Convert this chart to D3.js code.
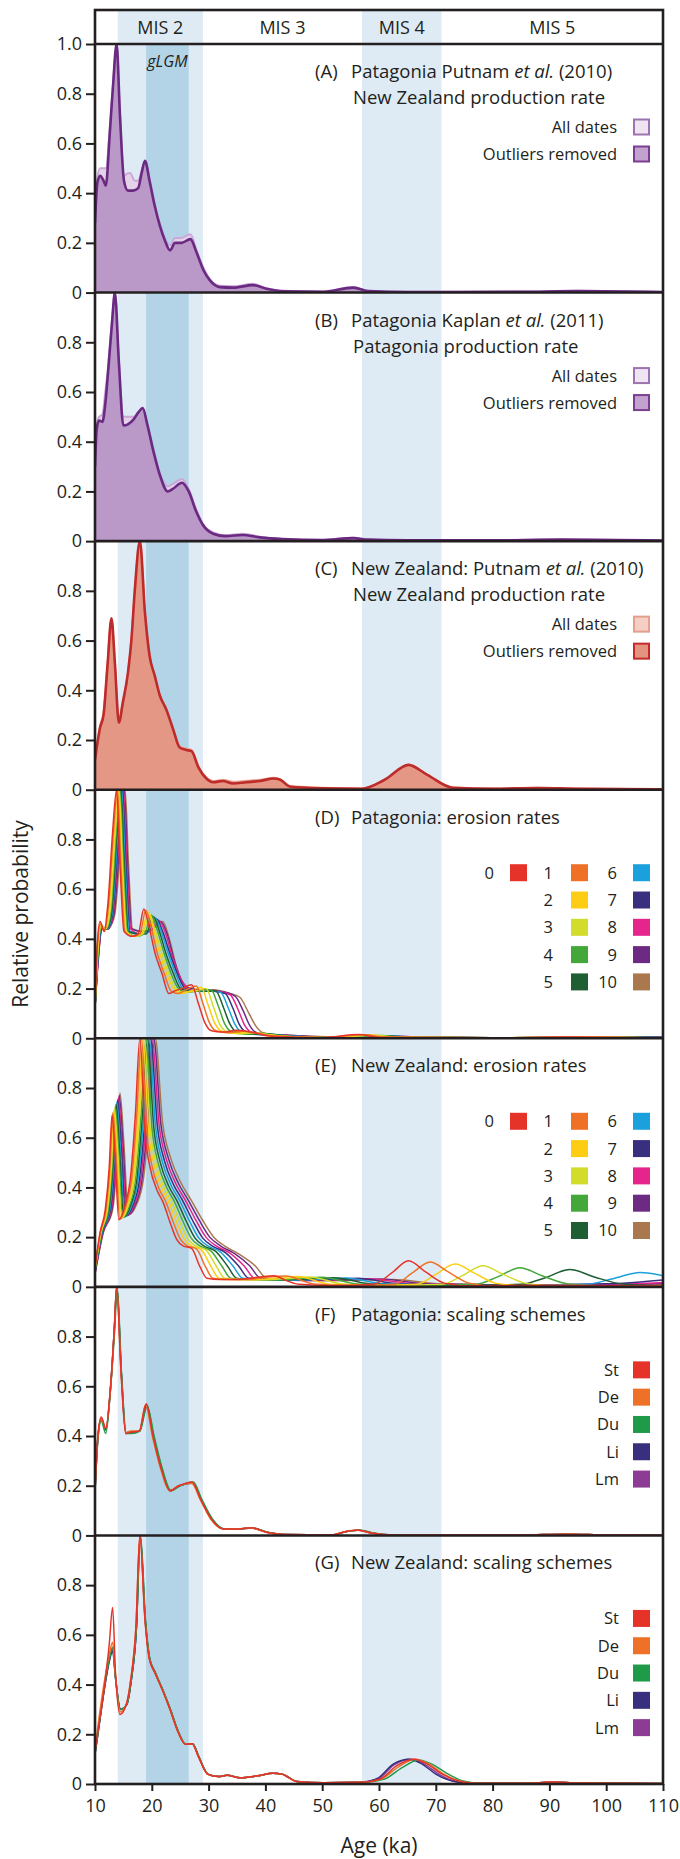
<!DOCTYPE html>
<html>
<head>
<meta charset="utf-8">
<script src="https://cdn.jsdelivr.net/npm/d3@7"></script>
<style>
body { margin: 0; background: #fff; }
svg text { font-family: "Open Sans", sans-serif; fill: #231f20; }
</style>
</head>
<body>
<script>
// ---- data (age in ka, relative probability) ----
const ageTicks = [10, 20, 30, 40, 50, 60, 70, 80, 90, 100, 110]
const probTicks = [0, 0.2, 0.4, 0.6, 0.8]
const probTicksTop = [0, 0.2, 0.4, 0.6, 0.8, 1.0]

const misNames = ["MIS 2", "MIS 3", "MIS 4", "MIS 5"]
const misBounds = [[14, 29], [29, 57], [57, 71], [71, 110]]
const lightBands = [[14, 29], [57, 71]]
const glgmBand = [19, 26.5]

const panelLetters = ["(A)", "(B)", "(C)", "(D)", "(E)", "(F)", "(G)"]
const titleLine1 = [
    ["Patagonia Putnam ", "et al.", " (2010)"],
    ["Patagonia Kaplan ", "et al.", " (2011)"],
    ["New Zealand: Putnam ", "et al.", " (2010)"],
    ["Patagonia: erosion rates"],
    ["New Zealand: erosion rates"],
    ["Patagonia: scaling schemes"],
    ["New Zealand: scaling schemes"]
]
const titleLine2 = ["New Zealand production rate", "Patagonia production rate", "New Zealand production rate", "", "", "", ""]

const datasetNames = ["All dates", "Outliers removed"]
const erosionRates = ["0", "1", "2", "3", "4", "5", "6", "7", "8", "9", "10"]
const scalingSchemes = ["St", "De", "Du", "Li", "Lm"]

// (A) Patagonia, Putnam et al. (2010) NZ production rate
const patPutnamAll = [[10,0.3],[10.4,0.46],[10.9,0.5],[11.5,0.5],[11.9,0.5],[12.6,0.66],[13.2,0.85],[13.8,1],[14.4,0.72],[15.1,0.47],[15.8,0.48],[16.2,0.48],[17,0.45],[17.6,0.45],[18.2,0.49],[18.8,0.53],[19.6,0.46],[20.5,0.36],[21.4,0.28],[22.3,0.22],[23.2,0.19],[24.1,0.22],[25.2,0.22],[26.8,0.235],[27.9,0.17],[29.1,0.1],[30.2,0.055],[32,0.027],[34.3,0.025],[37.8,0.035],[40.2,0.018],[43.2,0.007],[50,0.004],[55.5,0.022],[58,0.007],[65,0.003],[85,0.004],[95,0.007],[110,0.002]]
const patPutnamOut = [[10,0.28],[10.4,0.44],[10.9,0.47],[11.5,0.45],[11.9,0.43],[12.6,0.64],[13.2,0.84],[13.8,1],[14.4,0.71],[15.1,0.45],[15.8,0.41],[16.7,0.41],[17.6,0.42],[18.2,0.48],[18.8,0.53],[19.6,0.45],[20.5,0.35],[21.4,0.27],[22.3,0.21],[23.2,0.17],[24.1,0.2],[25.2,0.2],[26.8,0.215],[27.9,0.16],[29.1,0.09],[30.2,0.05],[32,0.022],[34.3,0.02],[37.8,0.03],[40.2,0.015],[43.2,0.005],[50,0.003],[55.5,0.02],[58,0.006],[65,0.002],[85,0.003],[95,0.006],[110,0.002]]

// (B) Patagonia, Kaplan et al. (2011) Patagonia production rate
const patKaplanAll = [[10,0.32],[10.3,0.47],[10.7,0.5],[11.3,0.51],[11.8,0.6],[12.3,0.7],[13,0.89],[13.5,1],[14.2,0.73],[15,0.5],[15.8,0.5],[16.8,0.5],[17.7,0.52],[18.4,0.535],[19.2,0.47],[20.3,0.37],[21.5,0.27],[22.8,0.22],[23.7,0.23],[25.3,0.25],[26.5,0.21],[27.8,0.13],[29,0.07],[30.8,0.035],[33,0.024],[36,0.03],[39,0.018],[43,0.009],[50,0.005],[55.5,0.014],[58,0.007],[65,0.003],[80,0.004],[92,0.007],[110,0.002]]
const patKaplanOut = [[10,0.3],[10.3,0.45],[10.7,0.485],[11.3,0.48],[11.8,0.55],[12.3,0.68],[13,0.88],[13.5,1],[14.2,0.72],[15,0.465],[15.8,0.47],[16.8,0.49],[17.7,0.52],[18.4,0.535],[19.2,0.47],[20.3,0.36],[21.5,0.26],[22.8,0.2],[23.7,0.21],[25.3,0.235],[26.5,0.2],[27.8,0.12],[29,0.065],[30.8,0.03],[33,0.02],[36,0.025],[39,0.015],[43,0.008],[50,0.004],[55.5,0.012],[58,0.006],[65,0.003],[80,0.003],[92,0.006],[110,0.002]]

// (C) New Zealand, Putnam et al. (2010)
const nzPutnamAll = [[10,0.13],[10.9,0.26],[11.5,0.31],[12.2,0.5],[12.9,0.69],[13.5,0.51],[14.2,0.28],[14.9,0.36],[15.8,0.47],[16.4,0.6],[17,0.8],[17.9,1],[18.8,0.71],[19.6,0.54],[20.5,0.46],[21.4,0.38],[22.6,0.32],[23.8,0.24],[24.9,0.175],[26.1,0.165],[27,0.16],[28.2,0.095],[29.6,0.05],[30.8,0.035],[32.5,0.04],[34.3,0.032],[36.6,0.036],[39,0.04],[41.5,0.048],[42.6,0.042],[44.4,0.015],[50,0.008],[57,0.005],[61,0.04],[65.2,0.1],[68.5,0.06],[73,0.009],[80,0.005],[88,0.008],[95,0.005],[110,0.002]]
const nzPutnamOut = [[10,0.12],[10.9,0.25],[11.5,0.3],[12.2,0.5],[12.9,0.69],[13.5,0.51],[14.2,0.27],[14.9,0.35],[15.8,0.47],[16.4,0.6],[17,0.8],[17.9,1],[18.8,0.71],[19.6,0.54],[20.5,0.46],[21.4,0.38],[22.6,0.32],[23.8,0.24],[24.9,0.17],[26.1,0.16],[27,0.155],[28.2,0.09],[29.6,0.045],[30.8,0.03],[32.5,0.035],[34.3,0.025],[36.6,0.03],[39,0.035],[41.5,0.045],[42.6,0.04],[44.4,0.012],[50,0.006],[57,0.004],[61,0.04],[65.2,0.1],[68.5,0.06],[73,0.008],[80,0.004],[88,0.007],[95,0.004],[110,0.002]]

// (D) Patagonia erosion rates 0..10
const patErosion = [
    [[10,0.13],[10.4,0.38],[10.9,0.47],[11.6,0.43],[12.3,0.55],[13.1,0.83],[13.8,1],[14.4,0.7],[15.1,0.43],[16.5,0.41],[17.6,0.42],[18.6,0.52],[19.5,0.45],[20.6,0.34],[21.8,0.26],[23,0.18],[24,0.19],[25.3,0.2],[27,0.215],[28.2,0.14],[29.3,0.065],[30.5,0.03],[32.5,0.025],[35,0.032],[37.5,0.025],[41,0.008],[50,0.003],[56.5,0.015],[60,0.004],[80,0.002],[93,0.005],[110,0.001]],
    [[10,0.13],[10.4,0.36],[10.9,0.46],[11.7,0.43],[12.4,0.54],[13.25,0.83],[13.95,1],[14.55,0.7],[15.25,0.43],[16.6,0.41],[17.9,0.42],[18.95,0.515],[19.85,0.45],[21,0.34],[22.2,0.26],[23.4,0.19],[24.6,0.18],[26,0.195],[27.85,0.21],[29,0.14],[30.1,0.065],[31.3,0.03],[33.5,0.022],[36,0.028],[38.5,0.02],[42,0.008],[50,0.003],[57.5,0.014],[61,0.004],[80,0.002],[95,0.005],[110,0.001]],
    [[10,0.13],[10.5,0.36],[11,0.46],[11.8,0.44],[12.5,0.53],[13.4,0.83],[14.1,1],[14.7,0.7],[15.4,0.43],[16.8,0.41],[18.2,0.42],[19.3,0.51],[20.2,0.45],[21.4,0.34],[22.6,0.26],[23.8,0.2],[25.2,0.18],[26.8,0.19],[28.7,0.205],[29.9,0.135],[31,0.065],[32.2,0.03],[34.5,0.02],[37,0.025],[40,0.015],[43,0.008],[50,0.003],[58.5,0.013],[62,0.004],[80,0.002],[97,0.004],[110,0.001]],
    [[10,0.125],[10.5,0.35],[11.1,0.45],[11.9,0.44],[12.7,0.52],[13.55,0.82],[14.25,1],[14.85,0.7],[15.55,0.43],[17,0.41],[18.4,0.42],[19.6,0.5],[20.5,0.44],[21.8,0.34],[23,0.26],[24.2,0.2],[25.7,0.185],[27.5,0.19],[29.55,0.2],[30.8,0.13],[31.9,0.06],[33.1,0.028],[35.5,0.018],[38,0.022],[41,0.013],[44,0.007],[50,0.003],[59.5,0.012],[63,0.004],[80,0.002],[99,0.004],[110,0.001]],
    [[10,0.125],[10.5,0.34],[11.1,0.45],[12,0.44],[12.8,0.51],[13.7,0.82],[14.4,1],[15,0.7],[15.7,0.43],[17.2,0.41],[18.7,0.42],[19.95,0.495],[20.9,0.44],[22.2,0.34],[23.4,0.26],[24.7,0.2],[26.2,0.185],[28.2,0.19],[30.4,0.195],[31.7,0.13],[32.8,0.06],[34,0.027],[36.5,0.017],[39,0.02],[42,0.012],[45,0.006],[52,0.003],[60.5,0.011],[64,0.004],[80,0.002],[101,0.004],[110,0.001]],
    [[10,0.12],[10.5,0.33],[11.1,0.45],[12.1,0.44],[12.9,0.5],[13.85,0.82],[14.55,1],[15.15,0.7],[15.85,0.43],[17.4,0.42],[19,0.42],[20.25,0.49],[21.2,0.44],[22.5,0.34],[23.8,0.26],[25.1,0.2],[26.7,0.19],[28.9,0.19],[31.25,0.19],[32.6,0.125],[33.7,0.06],[34.9,0.026],[37.5,0.016],[40,0.018],[43,0.011],[46,0.006],[53,0.003],[61.5,0.01],[65,0.004],[80,0.002],[103,0.004],[110,0.002]],
    [[10,0.12],[10.5,0.32],[11.2,0.45],[12.2,0.44],[13,0.5],[14,0.82],[14.7,1],[15.3,0.7],[16,0.43],[17.6,0.42],[19.2,0.425],[20.55,0.485],[21.5,0.44],[22.9,0.34],[24.2,0.26],[25.5,0.2],[27.2,0.19],[29.6,0.19],[32.1,0.185],[33.5,0.12],[34.6,0.058],[35.8,0.025],[38.5,0.015],[41,0.016],[44,0.01],[47,0.006],[54,0.003],[62.5,0.009],[66,0.004],[80,0.002],[105,0.004],[110,0.003]],
    [[10,0.12],[10.5,0.31],[11.2,0.44],[12.3,0.44],[13.1,0.5],[14.15,0.82],[14.85,1],[15.45,0.7],[16.15,0.43],[17.8,0.42],[19.4,0.43],[20.85,0.48],[21.9,0.43],[23.2,0.34],[24.5,0.26],[25.9,0.2],[27.7,0.19],[30.3,0.19],[32.9,0.18],[34.3,0.12],[35.4,0.056],[36.7,0.024],[39.5,0.014],[42,0.014],[45,0.009],[48,0.006],[55,0.003],[63.5,0.008],[67,0.004],[80,0.002],[107,0.004],[110,0.004]],
    [[10,0.12],[10.5,0.3],[11.2,0.44],[12.4,0.44],[13.2,0.5],[14.3,0.82],[15,1],[15.6,0.7],[16.3,0.44],[18,0.42],[19.7,0.43],[21.2,0.475],[22.3,0.43],[23.6,0.33],[24.9,0.25],[26.3,0.2],[28.3,0.19],[31,0.19],[33.8,0.175],[35.2,0.115],[36.3,0.055],[37.6,0.023],[40.5,0.013],[43,0.013],[46,0.008],[50,0.005],[56,0.003],[64.5,0.007],[68,0.004],[80,0.002],[110,0.004]],
    [[10,0.12],[10.5,0.3],[11.2,0.44],[12.5,0.45],[13.35,0.5],[14.45,0.82],[15.15,1],[15.75,0.7],[16.45,0.44],[18.2,0.43],[19.9,0.435],[21.55,0.47],[22.7,0.42],[24,0.31],[25.3,0.23],[26.8,0.2],[28.8,0.195],[31.7,0.19],[34.65,0.17],[36.1,0.11],[37.2,0.053],[38.5,0.022],[41.5,0.012],[44,0.012],[47,0.008],[51,0.005],[57,0.003],[65.5,0.006],[69,0.004],[80,0.002],[110,0.004]],
    [[10,0.12],[10.5,0.29],[11.2,0.44],[12.6,0.45],[13.5,0.5],[14.6,0.82],[15.3,1],[15.9,0.7],[16.6,0.44],[18.5,0.43],[20.2,0.44],[21.9,0.47],[23.1,0.4],[24.3,0.29],[25.8,0.21],[27.8,0.195],[30.8,0.195],[33.8,0.18],[35.5,0.165],[37.1,0.1],[38.3,0.05],[39.6,0.022],[42.5,0.012],[45,0.011],[48,0.008],[52,0.005],[58,0.003],[66.5,0.006],[70,0.004],[80,0.002],[110,0.004]]
]

// (E) New Zealand erosion rates 0..10
const nzErosion = [
    [[10,0.08],[10.9,0.22],[11.8,0.31],[12.5,0.48],[13,0.69],[13.5,0.54],[14.2,0.27],[15.3,0.33],[16.2,0.43],[17.1,0.69],[17.9,1],[18.8,0.62],[19.7,0.48],[20.9,0.39],[22,0.34],[23.2,0.26],[24.4,0.19],[25.5,0.165],[27,0.155],[28.5,0.08],[29.7,0.035],[32,0.03],[35.5,0.03],[39,0.04],[41.5,0.045],[43.7,0.025],[46,0.01],[52,0.005],[59,0.01],[62.2,0.055],[65.2,0.105],[68.2,0.06],[71.5,0.015],[76,0.004],[90,0.006],[110,0.002]],
    [[10,0.077],[10.96,0.22],[11.93,0.31],[12.64,0.485],[13.14,0.7],[13.66,0.545],[14.37,0.272],[15.5,0.33],[16.43,0.43],[17.35,0.69],[18.17,1],[19.11,0.624],[20.06,0.484],[21.32,0.393],[22.49,0.341],[23.77,0.261],[25.05,0.191],[26.23,0.165],[27.85,0.153],[29.47,0.08],[30.75,0.035],[33.2,0.03],[37,0.03],[40.5,0.04],[43.6,0.044],[48.5,0.012],[55,0.005],[62.7,0.01],[65.8,0.055],[69,0.1],[72.2,0.06],[75.9,0.015],[80,0.004],[95,0.005],[110,0.002]],
    [[10,0.074],[11.02,0.22],[12.06,0.31],[12.78,0.49],[13.28,0.708],[13.81,0.55],[14.54,0.274],[15.7,0.33],[16.66,0.43],[17.6,0.69],[18.44,1],[19.42,0.628],[20.42,0.488],[21.74,0.396],[22.98,0.342],[24.34,0.262],[25.7,0.192],[26.96,0.165],[28.7,0.15],[30.44,0.081],[31.8,0.035],[34.4,0.03],[38.5,0.029],[42.4,0.037],[45.7,0.042],[51,0.012],[58,0.005],[66.6,0.01],[70,0.05],[73.4,0.092],[76.8,0.055],[80.7,0.014],[86,0.004],[110,0.003]],
    [[10,0.071],[11.08,0.22],[12.19,0.31],[12.92,0.495],[13.42,0.717],[13.97,0.555],[14.71,0.276],[15.9,0.33],[16.89,0.43],[17.85,0.69],[18.71,1],[19.73,0.632],[20.78,0.492],[22.16,0.399],[23.47,0.343],[24.91,0.263],[26.35,0.193],[27.69,0.165],[29.55,0.148],[31.41,0.081],[32.85,0.035],[35.6,0.03],[40,0.029],[44.3,0.035],[47.8,0.04],[53.5,0.012],[61,0.005],[71.1,0.01],[74.7,0.045],[78.3,0.085],[81.9,0.05],[86.1,0.013],[92,0.004],[110,0.003]],
    [[10,0.068],[11.14,0.22],[12.32,0.31],[13.06,0.5],[13.56,0.726],[14.12,0.56],[14.88,0.278],[16.1,0.33],[17.12,0.43],[18.1,0.69],[18.98,1],[20.04,0.636],[21.14,0.496],[22.58,0.402],[23.96,0.344],[25.48,0.264],[27,0.194],[28.42,0.165],[30.4,0.145],[32.38,0.082],[33.9,0.035],[36.8,0.03],[41.5,0.028],[46.2,0.034],[49.9,0.039],[56,0.012],[65,0.005],[77,0.01],[80.9,0.04],[84.8,0.077],[88.7,0.045],[93.3,0.012],[100,0.004],[110,0.003]],
    [[10,0.065],[11.2,0.22],[12.45,0.31],[13.2,0.505],[13.7,0.735],[14.28,0.565],[15.05,0.28],[16.3,0.33],[17.35,0.43],[18.35,0.69],[19.25,1],[20.35,0.64],[21.5,0.5],[23,0.405],[24.45,0.345],[26.05,0.265],[27.65,0.195],[29.15,0.165],[31.25,0.143],[33.35,0.083],[34.95,0.035],[38,0.03],[43,0.028],[48.1,0.033],[52,0.037],[58.5,0.012],[70,0.005],[85,0.01],[89.3,0.037],[93.6,0.07],[97.9,0.04],[103,0.011],[110,0.004]],
    [[10,0.062],[11.26,0.22],[12.58,0.31],[13.34,0.51],[13.84,0.744],[14.43,0.57],[15.22,0.282],[16.5,0.33],[17.58,0.43],[18.6,0.69],[19.52,1],[20.66,0.644],[21.86,0.504],[23.42,0.408],[24.94,0.346],[26.62,0.266],[28.3,0.196],[29.88,0.165],[32.1,0.14],[34.32,0.083],[36,0.035],[39.2,0.03],[44.5,0.027],[50,0.032],[54.1,0.036],[61,0.012],[75,0.005],[96.4,0.01],[101.2,0.033],[106,0.058],[110,0.045]],
    [[10,0.059],[11.32,0.22],[12.71,0.31],[13.48,0.515],[13.98,0.753],[14.59,0.575],[15.39,0.284],[16.7,0.33],[17.81,0.43],[18.85,0.69],[19.79,1],[20.97,0.648],[22.22,0.508],[23.84,0.411],[25.43,0.347],[27.19,0.267],[28.95,0.197],[30.61,0.165],[32.95,0.138],[35.29,0.084],[37.05,0.035],[40.4,0.03],[46,0.027],[52,0.031],[56.2,0.035],[63.5,0.012],[80,0.006],[100,0.012],[110,0.028]],
    [[10,0.056],[11.38,0.22],[12.84,0.31],[13.62,0.52],[14.12,0.762],[14.74,0.58],[15.56,0.286],[16.9,0.33],[18.04,0.43],[19.1,0.69],[20.06,1],[21.28,0.652],[22.58,0.512],[24.26,0.414],[25.92,0.348],[27.76,0.268],[29.6,0.198],[31.34,0.165],[33.8,0.135],[36.26,0.084],[38.1,0.035],[41.6,0.03],[47.5,0.026],[54,0.03],[58.3,0.033],[66,0.012],[85,0.006],[100,0.009],[110,0.018]],
    [[10,0.053],[11.44,0.22],[12.97,0.31],[13.76,0.525],[14.26,0.771],[14.9,0.585],[15.73,0.288],[17.1,0.33],[18.27,0.43],[19.35,0.69],[20.33,1],[21.59,0.656],[22.94,0.516],[24.68,0.417],[26.41,0.349],[28.33,0.269],[30.25,0.199],[32.07,0.165],[34.65,0.133],[37.23,0.085],[39.15,0.035],[42.8,0.03],[49,0.026],[56,0.029],[60.4,0.032],[68.5,0.012],[90,0.006],[110,0.014]],
    [[10,0.05],[11.5,0.22],[13.1,0.31],[13.9,0.53],[14.4,0.78],[15.05,0.59],[15.9,0.29],[17.3,0.33],[18.5,0.43],[19.6,0.69],[20.6,1],[21.9,0.66],[23.3,0.52],[25.1,0.42],[26.9,0.35],[28.9,0.27],[30.9,0.2],[32.8,0.165],[35.5,0.13],[38.2,0.085],[40.2,0.035],[44,0.03],[50.5,0.025],[58,0.028],[62.5,0.03],[71,0.012],[95,0.006],[110,0.01]]
]

// (F) Patagonia scaling schemes St, De, Du, Li, Lm
const patScaling = [
    [[10,0.185],[10.5,0.4],[11.1,0.476],[11.9,0.43],[12.7,0.59],[13.4,0.83],[13.8,1],[14.6,0.65],[15.4,0.41],[16.3,0.415],[17.8,0.42],[19,0.53],[20.2,0.4],[21.7,0.265],[23.2,0.18],[24.8,0.2],[27.1,0.215],[28.6,0.145],[30.5,0.065],[32.5,0.027],[34.8,0.025],[37.5,0.031],[40.2,0.013],[43.2,0.004],[51.7,0.002],[54,0.015],[56.3,0.022],[58.6,0.01],[62.5,0.002],[85,0.002],[93,0.005],[100,0.002],[110,0.001]],
    [[10,0.18],[10.5,0.39],[11.1,0.47],[11.9,0.43],[12.7,0.58],[13.4,0.83],[13.8,1],[14.6,0.65],[15.4,0.415],[16.3,0.42],[17.8,0.42],[18.9,0.525],[20.1,0.4],[21.6,0.265],[23.1,0.18],[24.7,0.2],[27,0.21],[28.5,0.145],[30.4,0.065],[32.4,0.027],[34.7,0.025],[37.4,0.03],[40.1,0.013],[43.1,0.004],[51.6,0.002],[53.9,0.014],[56.2,0.021],[58.5,0.01],[62.4,0.002],[85,0.002],[93,0.005],[100,0.002],[110,0.001]],
    [[10,0.17],[10.5,0.38],[11.1,0.46],[11.9,0.41],[12.7,0.58],[13.5,0.84],[13.9,1],[14.7,0.64],[15.5,0.41],[16.4,0.41],[17.9,0.42],[19.2,0.52],[20.4,0.4],[21.9,0.265],[23.4,0.18],[25,0.2],[27.3,0.215],[28.8,0.145],[30.7,0.065],[32.7,0.027],[35,0.025],[37.7,0.03],[40.4,0.013],[43.4,0.004],[51.9,0.002],[54.2,0.015],[56.6,0.022],[58.9,0.01],[62.8,0.002],[85,0.002],[93,0.005],[100,0.002],[110,0.001]],
    [[10,0.175],[10.5,0.39],[11.1,0.47],[11.9,0.425],[12.7,0.58],[13.4,0.83],[13.85,1],[14.65,0.65],[15.45,0.41],[16.35,0.415],[17.85,0.42],[19.1,0.525],[20.3,0.4],[21.8,0.265],[23.3,0.18],[24.9,0.2],[27.2,0.21],[28.7,0.145],[30.6,0.065],[32.6,0.027],[34.9,0.025],[37.6,0.03],[40.3,0.013],[43.3,0.004],[51.8,0.002],[54.1,0.015],[56.4,0.021],[58.7,0.01],[62.6,0.002],[85,0.002],[93,0.005],[100,0.002],[110,0.001]],
    [[10,0.175],[10.5,0.39],[11.1,0.47],[11.9,0.425],[12.7,0.585],[13.4,0.83],[13.85,1],[14.65,0.65],[15.45,0.41],[16.35,0.415],[17.85,0.42],[19.05,0.527],[20.25,0.4],[21.75,0.265],[23.25,0.18],[24.85,0.2],[27.15,0.212],[28.65,0.145],[30.55,0.065],[32.55,0.027],[34.85,0.025],[37.55,0.03],[40.25,0.013],[43.25,0.004],[51.75,0.002],[54.05,0.015],[56.35,0.021],[58.65,0.01],[62.55,0.002],[85,0.002],[93,0.005],[100,0.002],[110,0.001]]
]

// (G) New Zealand scaling schemes St, De, Du, Li, Lm
const nzScaling = [
    [[10,0.13],[10.5,0.21],[11.7,0.4],[12.5,0.56],[13.1,0.71],[13.6,0.45],[14.4,0.28],[15.5,0.32],[16.3,0.42],[17.2,0.63],[17.9,1],[18.8,0.66],[19.6,0.5],[20.5,0.45],[22.1,0.365],[23.2,0.3],[24.6,0.21],[25.9,0.16],[27.1,0.162],[28.2,0.11],[29.8,0.04],[31.7,0.03],[33.2,0.035],[35.5,0.025],[38.6,0.033],[41.3,0.043],[42.8,0.04],[45.5,0.01],[50.2,0.005],[57.1,0.007],[60.2,0.02],[63.2,0.075],[66.2,0.1],[68.5,0.08],[71,0.042],[74,0.012],[77,0.003],[86,0.003],[90.5,0.008],[95,0.004],[110,0.002]],
    [[10,0.14],[10.5,0.23],[11.7,0.42],[12.5,0.52],[13.1,0.57],[13.6,0.44],[14.4,0.29],[15.5,0.32],[16.3,0.42],[17.2,0.63],[17.9,1],[18.8,0.66],[19.6,0.5],[20.5,0.45],[22.1,0.365],[23.2,0.3],[24.6,0.21],[25.9,0.16],[27.1,0.162],[28.2,0.11],[29.8,0.04],[31.7,0.03],[33.2,0.035],[35.5,0.025],[38.6,0.033],[41.3,0.043],[42.8,0.04],[45.5,0.01],[50.2,0.005],[57.1,0.007],[60.4,0.02],[63.5,0.07],[66.3,0.1],[68.7,0.082],[71.2,0.043],[74.2,0.012],[77.2,0.003],[86,0.003],[90.5,0.008],[95,0.004],[110,0.002]],
    [[10,0.12],[10.5,0.2],[11.7,0.4],[12.5,0.5],[13.1,0.55],[13.6,0.43],[14.5,0.3],[15.6,0.32],[16.4,0.42],[17.3,0.63],[18,1],[18.9,0.66],[19.7,0.5],[20.6,0.45],[22.2,0.365],[23.3,0.3],[24.7,0.21],[26,0.16],[27.2,0.162],[28.3,0.11],[29.9,0.04],[31.8,0.03],[33.3,0.035],[35.6,0.025],[38.7,0.033],[41.4,0.043],[42.9,0.04],[45.6,0.01],[50.3,0.005],[57.3,0.007],[61,0.02],[64,0.065],[67,0.097],[69.3,0.08],[71.8,0.045],[74.8,0.012],[78,0.003],[86,0.003],[90.5,0.008],[95,0.004],[110,0.002]],
    [[10,0.12],[10.5,0.2],[11.7,0.39],[12.5,0.49],[13.1,0.535],[13.6,0.43],[14.5,0.3],[15.6,0.32],[16.4,0.42],[17.3,0.63],[17.95,1],[18.85,0.66],[19.65,0.5],[20.55,0.45],[22.15,0.365],[23.25,0.3],[24.65,0.21],[25.95,0.16],[27.15,0.162],[28.25,0.11],[29.85,0.04],[31.75,0.03],[33.25,0.035],[35.55,0.025],[38.65,0.033],[41.35,0.043],[42.85,0.04],[45.55,0.01],[50.25,0.005],[56.8,0.007],[59.7,0.022],[62.5,0.08],[65.3,0.1],[67.6,0.08],[70,0.04],[73,0.011],[76,0.003],[86,0.003],[90.5,0.008],[95,0.004],[110,0.002]],
    [[10,0.12],[10.5,0.2],[11.7,0.39],[12.5,0.5],[13.1,0.545],[13.6,0.43],[14.5,0.3],[15.6,0.32],[16.4,0.42],[17.3,0.63],[17.95,1],[18.85,0.66],[19.65,0.5],[20.55,0.45],[22.15,0.365],[23.25,0.3],[24.65,0.21],[25.95,0.16],[27.15,0.162],[28.25,0.11],[29.85,0.04],[31.75,0.03],[33.25,0.035],[35.55,0.025],[38.65,0.033],[41.35,0.043],[42.85,0.04],[45.55,0.01],[50.25,0.005],[56.9,0.007],[59.9,0.021],[62.7,0.078],[65.6,0.1],[68,0.08],[70.4,0.042],[73.4,0.011],[76.4,0.003],[86,0.003],[90.5,0.008],[95,0.004],[110,0.002]]
]

// ---- layout ----
const W = 680, H = 1859
const plotLeft = 95, plotRight = 663
const frameTop = 10, headerBottom = 44, frameBottom = 1784
const panelH = (frameBottom - headerBottom) / 7
const ink = "#231f20"

const erosionColors = ["#e6332a", "#ee7127", "#fdcd14", "#d2dc2a", "#43a739", "#1e5e33", "#1aa0dc", "#38307f", "#e5258c", "#6c2a83", "#a9784f"]
const scalingColors = ["#e6332a", "#ee7127", "#1f9a48", "#38307f", "#8c3c94"]
const purple = { allFill: "#e4d2ea", allLine: "#cba8d8", outFill: "#b692c4", outLine: "#6b2a82", boxAll: ["#efe4f2", "#9d74b0"], boxOut: ["#c3a2cf", "#7b3f92"] }
const salmon = { allFill: "#f3c4b7", allLine: "#eaa592", outFill: "#e39380", outLine: "#be2b2b", boxAll: ["#f5cfc3", "#e4a08e"], boxOut: ["#e39380", "#c42a2b"] }

const panels = [
    { kind: "fill", all: patPutnamAll, out: patPutnamOut, pal: purple },
    { kind: "fill", all: patKaplanAll, out: patKaplanOut, pal: purple },
    { kind: "fill", all: nzPutnamAll, out: nzPutnamOut, pal: salmon },
    { kind: "erosion", curves: patErosion },
    { kind: "erosion", curves: nzErosion },
    { kind: "scaling", curves: patScaling },
    { kind: "scaling", curves: nzScaling }
]

const svg = d3.select("body").append("svg").attr("width", W).attr("height", H)

const x = d3.scaleLinear().domain([10, 110]).range([plotLeft, plotRight])

// background bands
svg.selectAll("rect.band").data(lightBands).join("rect")
    .attr("class", "band")
    .attr("x", d => x(d[0])).attr("width", d => x(d[1]) - x(d[0]))
    .attr("y", frameTop).attr("height", frameBottom - frameTop)
    .attr("fill", "#deebf5")
svg.append("rect")
    .attr("x", x(glgmBand[0])).attr("width", x(glgmBand[1]) - x(glgmBand[0]))
    .attr("y", headerBottom).attr("height", frameBottom - headerBottom)
    .attr("fill", "#b3d3e6")

// header labels
svg.selectAll("text.mis").data(misNames).join("text")
    .attr("class", "mis")
    .attr("x", (d, i) => x((misBounds[i][0] + misBounds[i][1]) / 2))
    .attr("y", 34)
    .attr("text-anchor", "middle")
    .attr("font-size", 18)
    .text(d => d)

svg.append("text")
    .attr("x", x((glgmBand[0] + glgmBand[1]) / 2)).attr("y", 67)
    .attr("text-anchor", "middle").attr("font-size", 16).attr("font-style", "italic")
    .attr("fill", "#3a3a3a")
    .text("gLGM")

function swatch(g, sx, cy, fill, stroke) {
    if (stroke) {
        g.append("rect").attr("x", sx + 1).attr("y", cy - 7.5).attr("width", 15).attr("height", 15)
            .attr("fill", fill).attr("stroke", stroke).attr("stroke-width", 2)
    } else {
        g.append("rect").attr("x", sx).attr("y", cy - 8.5).attr("width", 17).attr("height", 17)
            .attr("fill", fill)
    }
}

panels.forEach((p, i) => {
    const pTop = headerBottom + i * panelH, pBottom = pTop + panelH
    const y = d3.scaleLinear().domain([0, 1]).range([pBottom, pTop])

    svg.append("clipPath").attr("id", "clip" + i)
        .append("rect").attr("x", plotLeft).attr("y", pTop)
        .attr("width", plotRight - plotLeft).attr("height", panelH)

    const g = svg.append("g").attr("clip-path", `url(#clip${i})`)
    const line = d3.line().x(d => x(d[0])).y(d => y(d[1])).curve(d3.curveMonotoneX)
    const area = d3.area().x(d => x(d[0])).y0(y(0)).y1(d => y(d[1])).curve(d3.curveMonotoneX)

    if (p.kind === "fill") {
        g.append("path").datum(p.all).attr("d", area).attr("fill", p.pal.allFill)
        g.append("path").datum(p.all).attr("d", line).attr("fill", "none")
            .attr("stroke", p.pal.allLine).attr("stroke-width", 2)
        g.append("path").datum(p.out).attr("d", area).attr("fill", p.pal.outFill).attr("fill-opacity", 0.92)
        g.append("path").datum(p.out).attr("d", line).attr("fill", "none")
            .attr("stroke", p.pal.outLine).attr("stroke-width", 2.6)
    } else {
        const colors = p.kind === "erosion" ? erosionColors : scalingColors
        // last curve first so that the first (red) ends on top
        const order = d3.range(p.curves.length).reverse()
        g.selectAll("path.curve").data(order).join("path")
            .attr("class", "curve")
            .attr("d", k => line(p.curves[k]))
            .attr("fill", "none")
            .attr("stroke", k => colors[k])
            .attr("stroke-width", 1.5)
    }

    // y axis
    svg.append("g")
        .attr("transform", `translate(${plotLeft},0)`)
        .call(d3.axisLeft(y).tickValues(i === 0 ? probTicksTop : probTicks).tickSize(9).tickPadding(4)
            .tickFormat(d => d === 0 ? "0" : d3.format(".1f")(d)))
        .call(a => a.select(".domain").remove())
        .call(a => a.selectAll("line").attr("stroke", ink).attr("stroke-width", 2))
        .call(a => a.selectAll("text").attr("font-size", 18).attr("font-family", "Open Sans, sans-serif").attr("fill", ink))

    // titles
    const t = svg.append("g")
    t.append("text").attr("x", 315).attr("y", pTop + 34).attr("font-size", 18.5).text(panelLetters[i])
    const l1 = t.append("text").attr("x", 351).attr("y", pTop + 34).attr("font-size", 18.5)
    titleLine1[i].forEach((s, j) => {
        l1.append("tspan").attr("font-style", j % 2 === 1 ? "italic" : "normal").text(s)
    })
    if (titleLine2[i]) {
        t.append("text").attr("x", 353).attr("y", pTop + 60).attr("font-size", 18.5).text(titleLine2[i])
    }

    // legends
    const lg = svg.append("g").attr("font-size", 16.5)
    if (p.kind === "fill") {
        const boxes = [p.pal.boxAll, p.pal.boxOut]
        datasetNames.forEach((name, j) => {
            const cy = pTop + 83 + j * 27
            lg.append("text").attr("x", 617).attr("y", cy + 6).attr("text-anchor", "end").text(name)
            swatch(lg, 633, cy, boxes[j][0], boxes[j][1])
        })
    } else if (p.kind === "erosion") {
        const textX = [494, 553, 617], boxX = [510, 571, 633]
        erosionRates.forEach((name, k) => {
            const col = k === 0 ? 0 : (k <= 5 ? 1 : 2)
            const row = k === 0 ? 0 : (k <= 5 ? k - 1 : k - 6)
            const cy = pTop + 83 + row * 27.3
            lg.append("text").attr("x", textX[col]).attr("y", cy + 6).attr("text-anchor", "end").text(name)
            swatch(lg, boxX[col], cy, erosionColors[k])
        })
    } else {
        scalingSchemes.forEach((name, k) => {
            const cy = pTop + 83 + k * 27.3
            lg.append("text").attr("x", 619).attr("y", cy + 6).attr("text-anchor", "end").text(name)
            swatch(lg, 633, cy, scalingColors[k])
        })
    }
})

// frame
svg.append("rect")
    .attr("x", plotLeft).attr("y", frameTop)
    .attr("width", plotRight - plotLeft).attr("height", frameBottom - frameTop)
    .attr("fill", "none").attr("stroke", ink).attr("stroke-width", 2.6)
svg.selectAll("line.sep").data(d3.range(7)).join("line")
    .attr("class", "sep")
    .attr("x1", plotLeft).attr("x2", plotRight)
    .attr("y1", i => headerBottom + i * panelH).attr("y2", i => headerBottom + i * panelH)
    .attr("stroke", ink).attr("stroke-width", 2.6)

// x axis
svg.append("g")
    .attr("transform", `translate(0,${frameBottom})`)
    .call(d3.axisBottom(x).tickValues(ageTicks).tickSize(7).tickPadding(8))
    .call(a => a.select(".domain").remove())
    .call(a => a.selectAll("line").attr("stroke", ink).attr("stroke-width", 2))
    .call(a => a.selectAll("text").attr("font-size", 18).attr("font-family", "Open Sans, sans-serif").attr("fill", ink))

svg.append("text")
    .attr("x", (plotLeft + plotRight) / 2).attr("y", 1853)
    .attr("text-anchor", "middle").attr("font-size", 21)
    .text("Age (ka)")

svg.append("text")
    .attr("transform", `translate(28,${(headerBottom + frameBottom) / 2}) rotate(-90)`)
    .attr("text-anchor", "middle").attr("font-size", 21)
    .text("Relative probability")
</script>
</body>
</html>
